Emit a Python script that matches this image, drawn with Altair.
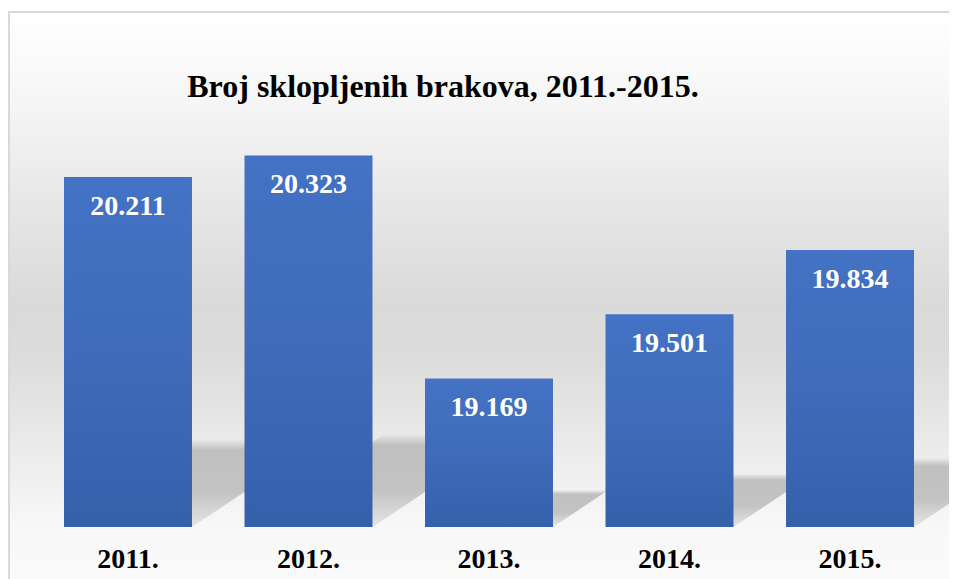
import altair as alt
import pandas as pd

# ---- data ----
years = ["2011.", "2012.", "2013.", "2014.", "2015."]
values = [20211, 20323, 19169, 19501, 19834]
value_labels = ["20.211", "20.323", "19.169", "19.501", "19.834"]
title_text = "Broj sklopljenih brakova, 2011.-2015."

# ---- layout constants ----
W, H = 941, 571
BASE = 18400                      # value axis minimum (bar baseline)
Y_DOMAIN = [18131, 21086]         # so baseline sits where reference shows it
PX_PER_UNIT = H / (Y_DOMAIN[1] - Y_DOMAIN[0])
STEP = 180.5
HALF_BAR = 0.3546                 # half bar width in band-index units
SX_DOMAIN = [-120 / STEP, (W - 120) / STEP]
FONT = "Liberation Serif"

df = pd.DataFrame({"year": years, "value": values, "label": value_labels})
df["base"] = BASE

# shadow polygons (perspective shadow behind each bar)
rows = []
for i, (yr, v) in enumerate(zip(years, values)):
    h = 0.25 * (v - BASE)
    skew = 1.5 * h * PX_PER_UNIT / STEP
    rows.append({"year": yr, "sy": BASE, "sx": i - HALF_BAR, "sx2": i + HALF_BAR})
    rows.append({"year": yr, "sy": BASE + h, "sx": i - HALF_BAR + skew, "sx2": i + HALF_BAR + skew})
shadow_df = pd.DataFrame(rows)

yscale = alt.Scale(domain=Y_DOMAIN, nice=False, zero=False)
band = alt.Scale(type="band", paddingInner=0.291, paddingOuter=0.2521, align=0.6154)

bg = alt.Chart(pd.DataFrame({"a": [0]})).mark_rect(
    fill=alt.Gradient(
        gradient="linear", x1=0, x2=0, y1=0, y2=1,
        stops=[
            alt.GradientStop(color="#ffffff", offset=0),
            alt.GradientStop(color="#f6f6f6", offset=0.14),
            alt.GradientStop(color="#e8e8e8", offset=0.30),
            alt.GradientStop(color="#dadada", offset=0.47),
            alt.GradientStop(color="#dbdbdb", offset=0.55),
            alt.GradientStop(color="#e8e8e8", offset=0.68),
            alt.GradientStop(color="#f8f8f8", offset=0.84),
            alt.GradientStop(color="#fcfcfc", offset=1),
        ],
    ),
    stroke="#d9d9d9", strokeWidth=2,
).encode(x=alt.value(1), x2=alt.value(980), y=alt.value(4), y2=alt.value(620))

shadow = alt.Chart(shadow_df).mark_area(
    orient="horizontal",
    interpolate="linear",
    fill=alt.Gradient(
        gradient="linear", x1=0, x2=0, y1=0, y2=1,
        stops=[
            alt.GradientStop(color="rgba(190,190,190,0)", offset=0),
            alt.GradientStop(color="#c0c0c0", offset=0.12),
            alt.GradientStop(color="#c3c3c3", offset=0.6),
            alt.GradientStop(color="rgba(200,200,200,0.4)", offset=1),
        ],
    ),
).encode(
    y=alt.Y("sy:Q", scale=yscale, axis=None),
    x=alt.X("sx:Q", scale=alt.Scale(domain=SX_DOMAIN, nice=False, zero=False), axis=None, stack=None),
    x2="sx2:Q",
    detail="year:N",
)

bars = alt.Chart(df).mark_bar(
    fill=alt.Gradient(
        gradient="linear", x1=0, x2=0, y1=0, y2=1,
        stops=[
            alt.GradientStop(color="#4472c4", offset=0),
            alt.GradientStop(color="#3f6bba", offset=0.5),
            alt.GradientStop(color="#3560aa", offset=1),
        ],
    ),
).encode(
    x=alt.X("year:N", sort=years, scale=band, axis=alt.Axis(
        title=None, orient="bottom", offset=-52, domain=False, ticks=False,
        tickSize=0, labelPadding=40, labelBaseline="alphabetic",
        labelFont=FONT, labelFontSize=28, labelFontWeight="bold",
        labelColor="#000000", labelAngle=0, grid=False, zindex=1)),
    y=alt.Y("value:Q", scale=yscale, axis=None),
    y2="base:Q",
)

text = alt.Chart(df).mark_text(
    color="#ffffff", font=FONT, fontSize=28, fontWeight="bold",
    baseline="alphabetic", align="center", dy=38,
).encode(
    x=alt.X("year:N", sort=years, scale=band, axis=None),
    y=alt.Y("value:Q", scale=yscale, axis=None),
    text="label:N",
)

title = alt.Chart(pd.DataFrame({"t": [title_text]})).mark_text(
    font=FONT, fontSize=32, fontWeight="bold", color="#000000",
    baseline="alphabetic", align="center",
).encode(text="t:N", x=alt.value(435), y=alt.value(89))

chart = alt.layer(bg, shadow, bars, text, title).resolve_scale(
    x="independent"
).properties(
    width=W, height=H,
    autosize=alt.AutoSizeParams(type="none"),
    padding=0,
).configure_view(stroke=None)

chart.save("out.html", embed_options={"renderer": "svg", "actions": False})
